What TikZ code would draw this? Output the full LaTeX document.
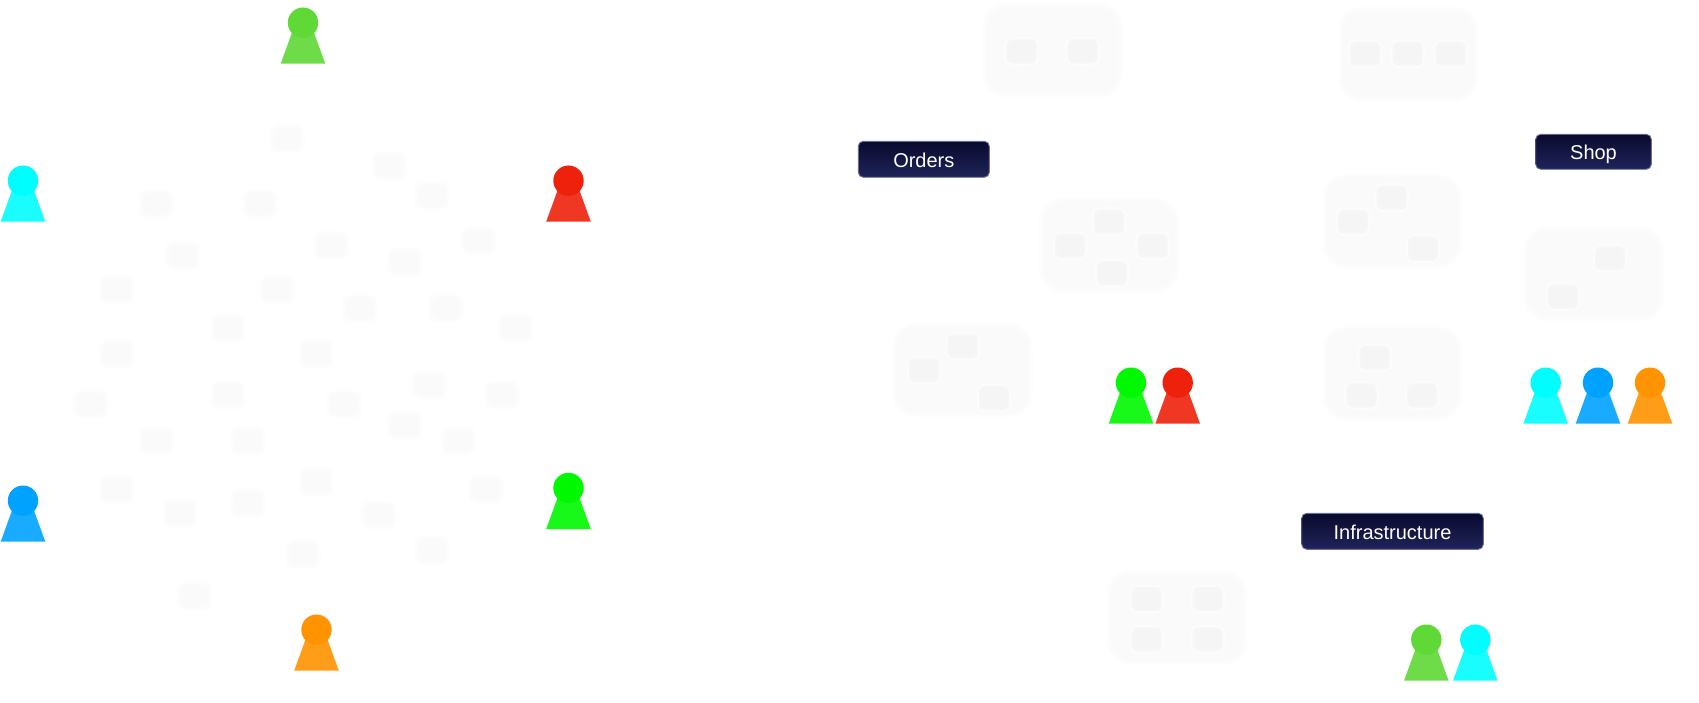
\documentclass[tikz,border=0pt]{standalone}
\usepackage{fontspec}
\setmainfont{Liberation Sans}
\definecolor{mossHead}{HTML}{5FD935}
\definecolor{cyanHead}{HTML}{00FDFF}
\definecolor{redHead}{HTML}{EE220C}
\definecolor{blueHead}{HTML}{00A2FF}
\definecolor{limeHead}{HTML}{00F900}
\definecolor{orangeHead}{HTML}{FF9300}
\definecolor{labelTop}{HTML}{0A0A2E}
\definecolor{labelBottom}{HTML}{1F2459}
\definecolor{labelEdge}{HTML}{6C7098}
\tikzset{
  teamlabel/.style={draw=labelEdge, line width=0.9pt, rounded corners=5pt,
    top color=labelTop, bottom color=labelBottom, text=white, inner sep=0pt,
    font=\fontsize{20}{24}\selectfont, text height=16pt, text depth=0pt},
  pawnbody/.style={fill=#1, fill opacity=0.9},
  pawnhead/.style={fill=#1}
}
% Soft-edged rounded rectangle built from nested layers: outer, main and core tones
\newcommand{\softrect}[8]{%
  \fill[fill=#6, rounded corners=#5+2.5pt] ({#1-#3/2-2.5},{#2-#4/2-2.5}) rectangle ({#1+#3/2+2.5},{#2+#4/2+2.5});
  \fill[fill=#7, rounded corners=#5pt] ({#1-#3/2},{#2-#4/2}) rectangle ({#1+#3/2},{#2+#4/2});
  \fill[fill=#8, rounded corners=#5-1.5pt] ({#1-#3/2+2.5},{#2-#4/2+2.5}) rectangle ({#1+#3/2-2.5},{#2+#4/2-2.5});
}
\definecolor{toneB}{HTML}{FCFCFC}
\definecolor{toneC}{HTML}{FAFAFA}
\definecolor{toneD}{HTML}{F6F6F6}
\definecolor{toneE}{HTML}{F5F5F5}
\definecolor{toneF}{HTML}{FDFDFD}
\definecolor{toneG}{HTML}{FBFBFB}
% Service group panel, its member chip and a loose chip
\newcommand{\panelbox}[2]{\softrect{#1}{#2}{135}{90}{21}{toneF}{toneG}{toneC}}
\newcommand{\memberchip}[2]{\softrect{#1}{#2+2}{30}{24}{6}{toneB}{toneD}{toneE}}
\newcommand{\loosechip}[2]{\softrect{#1*0.995}{#2}{30}{24}{6}{toneF}{toneG}{toneC}}
% Person marker: a truncated cone beneath a round head, anchored at base centre
\newcommand{\pawn}[3]{%
  \fill[pawnbody=#3] ({#1-22.3},#2) -- ({#1-10.7},{#2-32}) -- ({#1+10.7},{#2-32}) -- ({#1+22.3},#2) -- cycle;
  \fill[pawnhead=#3] (#1,{#2-41}) circle[radius=15.2];
}
\begin{document}
\begin{tikzpicture}[x=1pt,y=-1pt]
\useasboundingbox (0,0) rectangle (1699,703);
\fill[white] (0,0) rectangle (1699,703);

% Loose service chips on the left half
\foreach \cx/\cy in {288.5/139, 391.5/165.7, 433.8/195.7, 157.3/203.7, 261.5/203.7,
  333/245, 480.8/241, 407/261.7, 183.5/255.7, 117.3/289.3, 278.8/289.3,
  361.5/308.3, 448.5/308.3, 518/327.7, 229.6/327.7, 117.3/354, 318/354,
  431.5/385, 504.6/395, 229.6/395, 91.2/404, 346/404, 407/425, 460.4/440.7,
  157.3/440.7, 248.8/440.7, 318/482, 117.3/489.3, 488.5/489.3, 248.8/502.7,
  180.8/513.3, 380.8/515.3, 433.8/550, 304.6/554.3, 195/596}
  {\loosechip{\cx}{\cy}}

% Grouped services on the right half
\panelbox{1052.5}{50.5}
\foreach \cx/\cy in {1021.7/49.3, 1082.7/49.3} {\memberchip{\cx}{\cy}}
\panelbox{1408}{54}
\foreach \cx/\cy in {1365/51.7, 1407.7/51.7, 1450.7/51.7} {\memberchip{\cx}{\cy}}
\panelbox{1109}{245}
\foreach \cx/\cy in {1109/219.7, 1070/243.7, 1152.7/243.7, 1112/271} {\memberchip{\cx}{\cy}}
\panelbox{962.5}{370}
\foreach \cx/\cy in {962.7/344.3, 924/368.3, 994/396} {\memberchip{\cx}{\cy}}
\panelbox{1392}{221}
\foreach \cx/\cy in {1391.7/195.7, 1353/219.7, 1423/246.7} {\memberchip{\cx}{\cy}}
\panelbox{1392}{373}
\foreach \cx/\cy in {1374.7/355.7, 1361.7/393.3, 1422/393.3} {\memberchip{\cx}{\cy}}
\panelbox{1593.5}{274}
\foreach \cx/\cy in {1610/256.3, 1563/294.7} {\memberchip{\cx}{\cy}}
\panelbox{1177}{617.5}
\foreach \cx/\cy in {1146.7/597, 1207.7/597, 1146.7/637.3, 1207.7/637.3} {\memberchip{\cx}{\cy}}

% Team labels
\node[teamlabel, minimum width=131pt, minimum height=36pt] (orders) at (923.8,159.3) {Orders};
\node[teamlabel, minimum width=115.6pt, minimum height=35pt] (shop) at (1593.5,151.8) {Shop};
\node[teamlabel, minimum width=181.6pt, minimum height=36pt] (infra) at (1392.5,531.3) {Infrastructure};

% People around the left half
\pawn{303}{63.7}{mossHead}
\pawn{23}{221.7}{cyanHead}
\pawn{568.5}{221.7}{redHead}
\pawn{23}{541.7}{blueHead}
\pawn{568.5}{529}{limeHead}
\pawn{316.5}{670.7}{orangeHead}

% People beside their groups
\pawn{1131}{423.7}{limeHead}
\pawn{1177.7}{423.7}{redHead}
\pawn{1545.7}{423.7}{cyanHead}
\pawn{1598}{423.7}{blueHead}
\pawn{1650}{423.7}{orangeHead}
\pawn{1426.3}{680.7}{mossHead}
\pawn{1475.3}{680.7}{cyanHead}
\end{tikzpicture}
\end{document}
